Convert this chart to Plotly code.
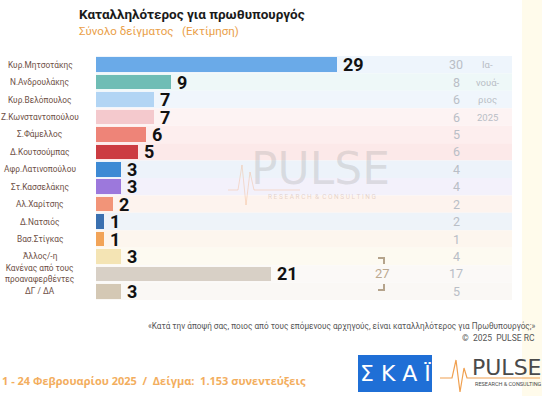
import plotly.graph_objects as go

# ---------------- data ----------------
categories = ["Κυρ.Μητσοτάκης", "Ν.Ανδρουλάκης", "Κυρ.Βελόπουλος", "Ζ.Κωνσταντοπούλου",
              "Σ.Φάμελλος", "Δ.Κουτσούμπας", "Αφρ.Λατινοπούλου", "Στ.Κασσελάκης",
              "Αλ.Χαρίτσης", "Δ.Νατσιός", "Βασ.Στίγκας", "Άλλος/-η",
              "Κανένας από τους<br>προαναφερθέντες", "ΔΓ / ΔΑ"]
values_feb = [29, 9, 7, 7, 6, 5, 3, 3, 2, 1, 1, 3, 21, 3]
values_jan = [30, 8, 6, 6, 5, 6, 4, 4, 2, 2, 1, 4, 17, 5]
combined_label = "27"
jan_label_lines = ["Ια-", "νουά-", "ριος", "2025"]

bar_colors = ["#6aaae8", "#6fbdb5", "#b2d5f4", "#f4c9cd", "#ee8478", "#cc3c42",
              "#3d8ad4", "#9c78dc", "#f29478", "#3a70b0", "#f2a458", "#f4e4b4",
              "#d8d0c6", "#d4c8b4"]
stripe_colors = ["#eef5fc", "#eef8f8", "#f0f6fc", "#fdf3f3", "#fdeeee", "#fce9e9",
                 "#edf3fa", "#f3f1fb", "#fdf3ee", "#eef3f9", "#fdf6ee", "#fdfaf1",
                 "#fbf9f7", "#faf8f5"]

W, H = 542, 396
L, R, T, B = 96, 512, 56, 300
XMAX = 50


def px(x):
    return (x - L) / (R - L)


def py(y):
    return (B - y) / (B - T)


rows = list(range(len(categories)))

fig = go.Figure()
fig.add_trace(go.Bar(
    x=values_feb, y=rows, orientation="h", width=0.84,
    marker=dict(color=bar_colors, line=dict(width=0)),
    hoverinfo="skip", showlegend=False,
))

shapes = []
annotations = []

# row stripes
for i in rows:
    shapes.append(dict(type="rect", xref="x", yref="y", x0=0, x1=XMAX,
                       y0=i - 0.5, y1=i + 0.5, fillcolor=stripe_colors[i],
                       line=dict(width=0), layer="below"))

# value labels, category labels, january values
for i in rows:
    annotations.append(dict(x=values_feb[i], y=i, xref="x", yref="y",
                            text="<b>%d</b>" % values_feb[i], showarrow=False,
                            xanchor="left", xshift=4,
                            font=dict(family="Roboto", size=18, color="#111111")))
    annotations.append(dict(x=px(40), y=i, xref="paper", yref="y",
                            text=categories[i], showarrow=False, xanchor="center",
                            font=dict(family="Roboto", size=8.3, color="#6e5046"),
                            align="center"))
    annotations.append(dict(x=43.3, y=i, xref="x", yref="y",
                            text=str(values_jan[i]), showarrow=False, xanchor="center",
                            font=dict(family="Roboto", size=12.5, color="#b9bec6")))

for k, t in enumerate(jan_label_lines):
    annotations.append(dict(x=47.1, y=k, xref="x", yref="y", text=t, showarrow=False,
                            xanchor="center",
                            font=dict(family="Roboto", size=9.5, color="#b9bec6")))

# combined "27" with brackets
annotations.append(dict(x=34.4, y=12, xref="x", yref="y", text=combined_label,
                        showarrow=False, xanchor="center",
                        font=dict(family="Roboto", size=13, color="#bba98f")))
bc = "#b5a48c"
shapes += [
    dict(type="line", xref="paper", yref="paper", x0=px(378), x1=px(384), y0=py(258), y1=py(258), line=dict(color=bc, width=2)),
    dict(type="line", xref="paper", yref="paper", x0=px(384), x1=px(384), y0=py(257), y1=py(264), line=dict(color=bc, width=2)),
    dict(type="line", xref="paper", yref="paper", x0=px(378), x1=px(384), y0=py(290), y1=py(290), line=dict(color=bc, width=2)),
    dict(type="line", xref="paper", yref="paper", x0=px(384), x1=px(384), y0=py(284), y1=py(291), line=dict(color=bc, width=2)),
]

# watermark
annotations.append(dict(x=px(320), y=py(168), xref="paper", yref="paper", text="PULSE",
                        showarrow=False, xanchor="center", yanchor="middle",
                        font=dict(family="DejaVu Sans", size=44, color="rgba(160,160,160,0.28)")))
annotations.append(dict(x=px(322), y=py(197), xref="paper", yref="paper",
                        text="R E S E A R C H  &  C O N S U L T I N G",
                        showarrow=False, xanchor="center", yanchor="middle",
                        font=dict(family="Roboto", size=6.5, color="rgba(200,170,150,0.45)")))
shapes.append(dict(type="path", xref="paper", yref="paper",
                   path="M %f %f L %f %f L %f %f L %f %f L %f %f L %f %f L %f %f" % (
                       px(228), py(190), px(238), py(190), px(242), py(165), px(246), py(205),
                       px(250), py(172), px(254), py(190), px(300), py(190)),
                   line=dict(color="rgba(240,170,120,0.35)", width=1)))

# titles
annotations.append(dict(x=px(77), y=py(14), xref="paper", yref="paper",
                        text="<b>Καταλληλότερος για πρωθυπουργός</b>", showarrow=False,
                        xanchor="left", yanchor="middle",
                        font=dict(family="Roboto", size=13.5, color="#1a1a1a")))
annotations.append(dict(x=px(77), y=py(31), xref="paper", yref="paper",
                        text="Σύνολο δείγματος   (Εκτίμηση)", showarrow=False,
                        xanchor="left", yanchor="middle",
                        font=dict(family="Roboto", size=11.5, color="#eaa048")))

# footer
annotations.append(dict(x=px(537), y=py(326), xref="paper", yref="paper",
                        text="«Κατά την άποψή σας, ποιος από τους επόμενους αρχηγούς, είναι καταλληλότερος για Πρωθυπουργός;»",
                        showarrow=False, xanchor="right", yanchor="middle",
                        font=dict(family="Roboto", size=8.2, color="#555555")))
annotations.append(dict(x=px(537), y=py(338), xref="paper", yref="paper",
                        text="©  2025  PULSE RC", showarrow=False, xanchor="right",
                        yanchor="middle", font=dict(family="Roboto", size=8.5, color="#555555")))
annotations.append(dict(x=px(0), y=py(381), xref="paper", yref="paper",
                        text="<b>1 - 24 Φεβρουαρίου 2025  /  Δείγμα:  1.153 συνεντεύξεις</b>",
                        showarrow=False, xanchor="left", yanchor="middle",
                        font=dict(family="Open Sans", size=11, color="#f3ae5e")))

# logos
shapes.append(dict(type="rect", xref="paper", yref="paper", x0=px(358), x1=px(432),
                   y0=py(355), y1=py(392), fillcolor="#1f6fd6", line=dict(width=0)))
annotations.append(dict(x=px(395), y=py(373), xref="paper", yref="paper", text="Σ Κ Α Ϊ",
                        showarrow=False, xanchor="center", yanchor="middle",
                        font=dict(family="DejaVu Sans", size=22, color="white")))
annotations.append(dict(x=px(470), y=py(367), xref="paper", yref="paper", text="PULSE",
                        showarrow=False, xanchor="left", yanchor="middle",
                        font=dict(family="DejaVu Sans", size=22, color="#4a4a4a")))
annotations.append(dict(x=px(473), y=py(384), xref="paper", yref="paper",
                        text="RESEARCH & CONSULTING", showarrow=False, xanchor="left",
                        yanchor="middle", font=dict(family="Roboto", size=5.5, color="#4a4a4a")))
shapes.append(dict(type="path", xref="paper", yref="paper",
                   path="M %f %f L %f %f L %f %f L %f %f L %f %f L %f %f L %f %f" % (
                       px(440), py(378), px(452), py(378), px(456), py(360), px(460), py(392),
                       px(464), py(368), px(467), py(378), px(540), py(378)),
                   line=dict(color="#f0a050", width=1.2)))

# faint cream edge
shapes.append(dict(type="rect", xref="paper", yref="paper", x0=px(522), x1=px(545),
                   y0=py(0), y1=py(396), fillcolor="rgba(255,248,215,0.5)",
                   line=dict(width=0), layer="below"))

fig.update_layout(
    width=W, height=H,
    margin=dict(l=L, r=W - R, t=T, b=H - B),
    paper_bgcolor="white", plot_bgcolor="rgba(0,0,0,0)",
    xaxis=dict(range=[0, XMAX], visible=False, fixedrange=True),
    yaxis=dict(range=[len(categories) - 0.5, -0.5], visible=False, fixedrange=True),
    bargap=0, shapes=shapes, annotations=annotations,
)

fig.write_html("out.html", config={"displayModeBar": False},
               post_script="document.body.style.margin='0';document.body.style.overflow='hidden';")
